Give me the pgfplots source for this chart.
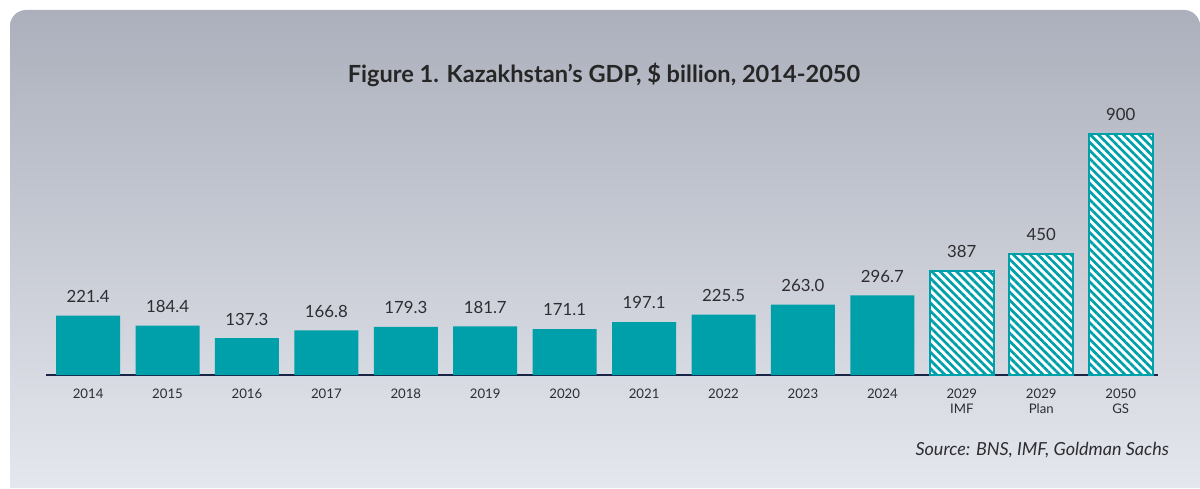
\documentclass[border=0pt]{standalone}
\usepackage{pgfplots}
\pgfplotsset{compat=1.18}
\usepackage{fontspec}
\setmainfont{Lato}
\usetikzlibrary{patterns.meta}
\definecolor{teal}{RGB}{0,160,170}
\definecolor{axisnavy}{RGB}{25,35,70}
\definecolor{txt}{RGB}{45,45,50}
\begin{document}
\begin{tikzpicture}
% panel, 1px = 0.5pt
\fill[white] (0,0) rectangle (600pt,244pt);
\shade[top color={rgb,255:red,172;green,176;blue,188}, bottom color={rgb,255:red,228;green,231;blue,237}]
  (5pt,0pt) [rounded corners=8pt] -- (5pt,239pt) -- (600pt,239pt) [sharp corners] -- (600pt,0pt) -- cycle;
\begin{axis}[
    at={(23pt,56.5pt)}, anchor=south west,
    scale only axis,
    width=556pt, height=134pt,
    xmin=-0.53, xmax=13.47,
    ymin=0, ymax=1000,
    axis y line=none,
    axis x line*=bottom,
    x axis line style={axisnavy, line width=1.2pt, -},
    xtick={0,...,13},
    xticklabels={2014,2015,2016,2017,2018,2019,2020,2021,2022,2023,2024,{2029\\IMF},{2029\\Plan},{2050\\GS}},
    xticklabel style={align=center, font=\fontsize{6.6}{7.4}\selectfont, text=txt, yshift=-3.5pt},
    major tick length=0pt,
    ybar, bar width=32pt, bar shift=0pt,
    nodes near coords,
    nodes near coords style={font=\fontsize{8.4}{10}\selectfont, text=txt, yshift=3pt},
    point meta=explicit symbolic,
]
\addplot[fill=teal, draw=none] coordinates {
  (0,221.4) [221.4] (1,184.4) [184.4] (2,137.3) [137.3] (3,166.8) [166.8]
  (4,179.3) [179.3] (5,181.7) [181.7] (6,171.1) [171.1] (7,197.1) [197.1]
  (8,225.5) [225.5] (9,263.0) [263.0] (10,296.7) [296.7]
};
\addplot[fill=white, draw=teal, line width=1pt,
  postaction={pattern={Lines[angle=-45, distance=2.9pt, line width=1.35pt]}, pattern color=teal}]
  coordinates {(11,387) [387] (12,450) [450] (13,900) [900]};
\end{axis}
\node[font=\bfseries\fontsize{11.8}{14}\selectfont, text=black!85] at (302pt,206.5pt)
  {Figure 1. Kazakhstan’s GDP, \$ billion, 2014-2050};
\node[anchor=east, font=\itshape\fontsize{9}{10}\selectfont, text=txt] at (588pt,19pt)
  {Source: BNS, IMF, Goldman Sachs};
\end{tikzpicture}
\end{document}
